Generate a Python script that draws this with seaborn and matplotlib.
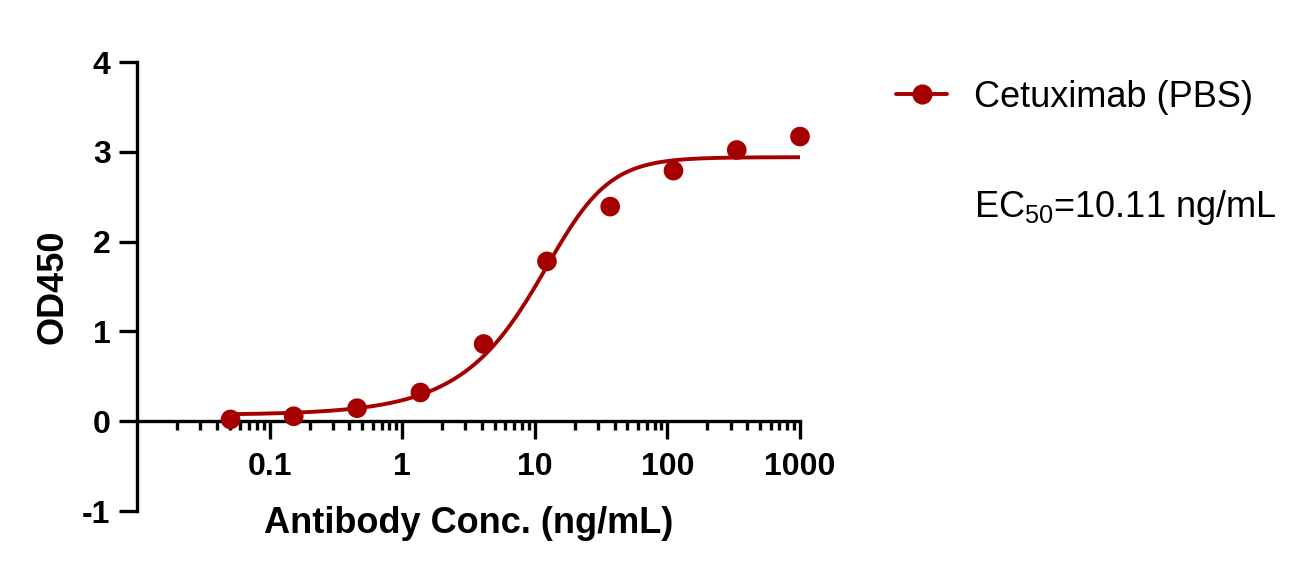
import numpy as np
import pandas as pd
import matplotlib
matplotlib.use("Agg")
import matplotlib.pyplot as plt
import seaborn as sns
from matplotlib.ticker import LogLocator, FixedLocator, NullFormatter

sns.set_style("ticks")
plt.rcParams['font.family'] = ['Liberation Sans', 'DejaVu Sans']
plt.rcParams['mathtext.fontset'] = 'custom'
plt.rcParams['mathtext.rm'] = 'Liberation Sans'
for k in ['text.color', 'axes.labelcolor', 'xtick.color', 'ytick.color', 'axes.edgecolor']:
    plt.rcParams[k] = 'black'

# measured data (3-fold dilution)
conc = [0.0508, 0.152, 0.457, 1.372, 4.115, 12.35, 37.04, 111.1, 333.3, 1000.0]
od450 = [0.02, 0.055, 0.145, 0.32, 0.86, 1.78, 2.39, 2.79, 3.02, 3.17]

# 5PL fit parameters (asymmetric sigmoid, EC50 form)
ec50 = 10.11
bottom = 0.07
top = 2.94
hill = 2.0
asym = 0.5

label = "Cetuximab (PBS)"
color = "#A50000"

df = pd.DataFrame({"conc": conc, "od": od450})
c = ec50 * (2 ** (1 / asym) - 1) ** (1 / hill)
xfit = np.logspace(np.log10(conc[0]), np.log10(conc[-1]), 300)
fit = pd.DataFrame({"conc": xfit,
                    "od": bottom + (top - bottom) / (1 + (c / xfit) ** hill) ** asym})

fig = plt.figure(figsize=(13.07, 5.72), dpi=100)
ax = fig.add_axes([0.1048, 0.1066, 0.5073, 0.785])

sns.lineplot(data=fit, x="conc", y="od", color=color, linewidth=2.8, ax=ax)
sns.scatterplot(data=df, x="conc", y="od", color=color, s=200, edgecolor="none",
                ax=ax, zorder=3, clip_on=False)

ax.set_xscale("log")
ax.set_xlim(0.01, 1000)
ax.set_ylim(-1, 4)
ax.spines['bottom'].set_position(('data', 0))
ax.spines['top'].set_visible(False)
ax.spines['right'].set_visible(False)
for s in ['left', 'bottom']:
    ax.spines[s].set_linewidth(2.4)

ax.xaxis.set_major_locator(FixedLocator([0.1, 1, 10, 100, 1000]))
ax.set_xticklabels(["0.1", "1", "10", "100", "1000"])
ax.xaxis.set_minor_locator(LogLocator(base=10, subs=np.arange(2, 10), numticks=20))
ax.xaxis.set_minor_formatter(NullFormatter())
ax.set_yticks([-1, 0, 1, 2, 3, 4])
ax.set_yticklabels(["-1", "0", "1", "2", "3", "4"])

ax.tick_params(axis='both', which='major', length=13, width=2.4, labelsize=23, pad=6)
ax.tick_params(axis='x', which='major', pad=9)
ax.tick_params(axis='x', which='minor', length=6.5, width=2.4)
for t in ax.get_xticklabels() + ax.get_yticklabels():
    t.set_fontweight('bold')

ax.set_xlabel("Antibody Conc. (ng/mL)", fontsize=26, fontweight='bold')
ax.set_ylabel("OD450", fontsize=26, fontweight='bold')
ax.xaxis.set_label_coords(0.5, 0.012)
ax.yaxis.set_label_coords(-0.101, 0.5)

handle = plt.Line2D([], [], color=color, linewidth=2.8, marker='o', markersize=13.5)
fig.legend([handle], [label], loc='upper left', bbox_to_anchor=(0.661, 0.917),
           frameon=False, fontsize=26, handlelength=1.4, handletextpad=0.75)

fig.text(0.745, 0.638, r"EC$_{\mathregular{50}}$=10.11 ng/mL", fontsize=26, va='center')

fig.savefig("out.png", dpi=100)
